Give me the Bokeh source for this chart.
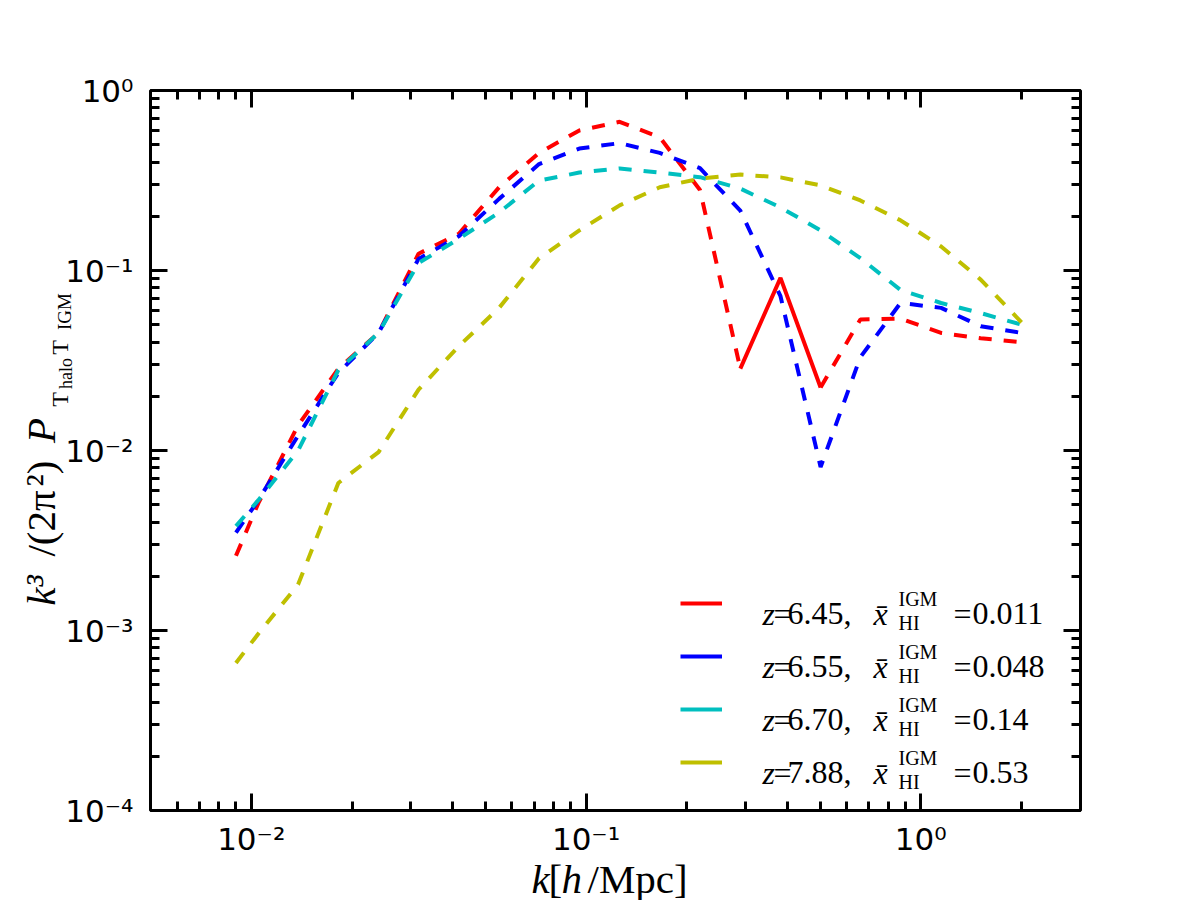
import math
from bokeh.plotting import figure
from bokeh.models import (Range1d, FixedTicker, LogAxis, CustomJSTickFormatter,
                          Label, Legend, LegendItem, BoxAnnotation)
from bokeh.embed import file_html
from bokeh.resources import INLINE

# ---------------- data ----------------
k = [0.009, 0.0105, 0.0138, 0.0182, 0.024, 0.0316, 0.0417, 0.055, 0.0724, 0.0955,
     0.126, 0.166, 0.219, 0.289, 0.381, 0.502, 0.66, 0.87, 1.15, 1.51, 2.0]

p_z645 = [0.0026, 0.0051, 0.0138, 0.0285, 0.045, 0.124, 0.16, 0.29, 0.45, 0.60,
          0.67, 0.55, 0.28, 0.0285, 0.091, 0.0224, 0.0535, 0.054, 0.045, 0.042, 0.040]
# points of the z=6.45 curve joined by a solid line (sign-flipped part)
z645_solid = [False] * 13 + [True, True, True] + [False] * 5

p_z655 = [0.0035, 0.0053, 0.0121, 0.027, 0.045, 0.116, 0.155, 0.25, 0.39, 0.476,
          0.51, 0.45, 0.37, 0.215, 0.072, 0.0081, 0.033, 0.066, 0.062, 0.049, 0.045]

p_z670 = [0.0038, 0.0053, 0.0100, 0.028, 0.045, 0.11, 0.15, 0.21, 0.316, 0.35,
          0.369, 0.35, 0.33, 0.285, 0.224, 0.167, 0.117, 0.078, 0.066, 0.058, 0.050]

p_z788 = [0.00066, 0.00096, 0.0018, 0.0066, 0.0098, 0.0218, 0.038, 0.062, 0.117, 0.167,
          0.23, 0.29, 0.324, 0.341, 0.329, 0.297, 0.245, 0.19, 0.136, 0.089, 0.0515]

legend_z = ["6.45", "6.55", "6.70", "7.88"]
legend_xhi = ["0.011", "0.048", "0.14", "0.53"]
colors = ["#ff0000", "#0000ff", "#00bfbf", "#bfbf00"]

x_major = [0.01, 0.1, 1.0]
y_major = [1e-4, 1e-3, 1e-2, 1e-1, 1.0]

# ---------------- layout geometry ----------------
W, H = 1200, 900
FL, FR, FT, FB = 150, 1080, 90, 810          # visible axes box on the canvas
XMIN, XMAX, YMIN, YMAX = 0.005, 3.0, 1e-4, 1.0

# the bokeh frame covers the whole canvas; the ranges are widened so that the
# axes box [XMIN, XMAX] x [YMIN, YMAX] lands on the pixels FL..FR, FT..FB
lx_per_px = (math.log10(XMAX) - math.log10(XMIN)) / (FR - FL)
ly_per_px = (math.log10(YMAX) - math.log10(YMIN)) / (FB - FT)
x_lo = 10 ** (math.log10(XMIN) - FL * lx_per_px)
x_hi = 10 ** (math.log10(XMAX) + (W - FR) * lx_per_px)
y_lo = 10 ** (math.log10(YMIN) - (H - FB) * ly_per_px)
y_hi = 10 ** (math.log10(YMAX) + FT * ly_per_px)

p = figure(width=W, height=H, x_axis_type="log", y_axis_type="log",
           x_range=Range1d(x_lo, x_hi), y_range=Range1d(y_lo, y_hi),
           output_backend="svg", toolbar_location=None, title=None,
           min_border_left=0, min_border_right=0, min_border_top=0, min_border_bottom=0)
p.background_fill_color = "white"
p.border_fill_color = "white"
p.outline_line_color = None
p.xgrid.visible = False
p.ygrid.visible = False

x_minor = [m * 10.0 ** e for e in range(-3, 1) for m in range(2, 10)
           if XMIN * 1.01 < m * 10.0 ** e < XMAX * 0.99]
y_minor = [m * 10.0 ** e for e in range(-4, 0) for m in range(2, 10)]

fmt_code = """
const sup = {"-": "\u207b", "0": "\u2070", "1": "\u00b9", "2": "\u00b2", "3": "\u00b3", "4": "\u2074"};
const e = Math.round(Math.log10(tick));
return "10" + String(e).split("").map(c => sup[c]).join("");
"""


def style_axis(ax, major, minor, labels, loc):
    ax.fixed_location = loc
    ax.ticker = FixedTicker(ticks=major, minor_ticks=minor)
    ax.axis_line_color = None
    ax.major_tick_in = 17
    ax.major_tick_out = 0
    ax.minor_tick_in = 9
    ax.minor_tick_out = 0
    ax.major_tick_line_width = 3
    ax.minor_tick_line_width = 3
    ax.major_tick_line_color = "black"
    ax.minor_tick_line_color = "black"
    ax.major_label_text_font = "DejaVu Sans"
    ax.major_label_text_font_size = "31px"
    ax.major_label_text_color = "black"
    if labels:
        ax.formatter = CustomJSTickFormatter(code=fmt_code)
    else:
        ax.formatter = CustomJSTickFormatter(code="return '';")


style_axis(p.xaxis[0], x_major, x_minor, True, YMIN)
p.xaxis[0].major_label_standoff = 10
style_axis(p.yaxis[0], y_major, y_minor, True, XMIN)
p.yaxis[0].major_label_standoff = 17

top_ax = LogAxis()
style_axis(top_ax, x_major, x_minor, False, YMAX)
p.add_layout(top_ax, "above")
right_ax = LogAxis()
style_axis(right_ax, y_major, y_minor, False, XMAX)
p.add_layout(right_ax, "right")

# axes box
p.add_layout(BoxAnnotation(left=XMIN, right=XMAX, bottom=YMIN, top=YMAX,
                           fill_color=None, line_color="black", line_width=3,
                           line_alpha=1.0, level="overlay"))

# ---------------- curves ----------------
LW = 4
DASH = "13 12"


def runs(mask, want):
    """index ranges of consecutive segments whose style is `want`"""
    out = []
    cur = None
    for i in range(len(mask) - 1):
        seg_solid = mask[i] and mask[i + 1]
        if seg_solid == want:
            if cur is None:
                cur = [i, i + 1]
            else:
                cur[1] = i + 1
        else:
            if cur is not None:
                out.append(cur)
                cur = None
    if cur is not None:
        out.append(cur)
    return out


dashed_runs = runs(z645_solid, False)
solid_runs = runs(z645_solid, True)
for a, b in dashed_runs:
    p.line(k[a:b + 1], p_z645[a:b + 1], line_color=colors[0], line_width=LW, line_dash=DASH)
solid_renderers = []
for a, b in solid_runs:
    solid_renderers.append(p.line(k[a:b + 1], p_z645[a:b + 1], line_color=colors[0], line_width=LW))

other_series = [p_z655, p_z670, p_z788]
for vals, col in zip(other_series, colors[1:]):
    p.line(k, vals, line_color=col, line_width=LW, line_dash=DASH)

# solid samples for the legend: a single point of each series (draws no segment)
legend_renderers = [solid_renderers[0]]
for vals, col in zip(other_series, colors[1:]):
    legend_renderers.append(p.line(x=k[-1:], y=vals[-1:], line_color=col, line_width=LW))

ROW0, ROWSTEP = 603, 53
GH = 20
n_items = len(legend_renderers)
legend_h = n_items * GH + (n_items - 1) * (ROWSTEP - GH)
legend = Legend(items=[LegendItem(label=" ", renderers=[r]) for r in legend_renderers],
                location=(680, H - (ROW0 - GH // 2 + legend_h)),
                glyph_width=42, glyph_height=GH, label_height=GH, label_width=1,
                spacing=ROWSTEP - GH, padding=0, margin=0,
                border_line_color=None, background_fill_alpha=0,
                label_text_font_size="10px", label_standoff=0)
p.add_layout(legend, "center")


# ---------------- texts ----------------
# Label screen units: measured from the frame's (= canvas') bottom-left corner
def lab(x, y, text, size, italic=False, angle=0.0, font="Liberation Serif",
        align="left", baseline="alphabetic"):
    p.add_layout(Label(x=x, y=H - y, x_units="screen", y_units="screen", text=text,
                       text_font=font, text_font_size=f"{size}px",
                       text_font_style="italic" if italic else "normal",
                       text_align=align, text_baseline=baseline,
                       angle=angle, text_color="black"))


def vlab(xc, yc, text, size, italic=False):
    """vertical (reading upward) text, centred on (xc, yc)"""
    lab(xc, yc, text, size, italic=italic, angle=math.pi / 2,
        align="center", baseline="middle")


# x axis title  k[h/Mpc]
XB = 878
lab(531, XB, "k", 41, italic=True)
lab(548, XB, "[", 41)
lab(561, XB, "h", 41, italic=True)
lab(587, XB, "/Mpc]", 41)

# y axis title  k^3 /(2 pi^2) P_{T_halo T_IGM}
vlab(40, 590, "k³", 41, italic=True)
vlab(40, 523, "/(2π", 41)
vlab(40, 473, "²)", 41)
vlab(40, 430, "P", 41, italic=True)
vlab(59, 399, "T", 24)
vlab(65, 373, "halo", 18)
vlab(59, 347, "T", 24)
vlab(64, 311, "IGM", 19)

# legend texts
for i, (zz, xh) in enumerate(zip(legend_z, legend_xhi)):
    yc = ROW0 + ROWSTEP * i
    bl = yc + 10
    lab(762, bl, "z", 32, italic=True)
    lab(773, bl, "=", 32)
    lab(787, bl, zz + ",", 32)
    lab(873, bl, "x\u0304", 32, italic=True)
    lab(898, yc - 5, "IGM", 20)
    lab(898, yc + 19, "HI", 20)
    lab(953, bl, "=", 32)
    lab(972, bl, xh, 32)

open("out.html", "w").write(file_html(p, INLINE))
